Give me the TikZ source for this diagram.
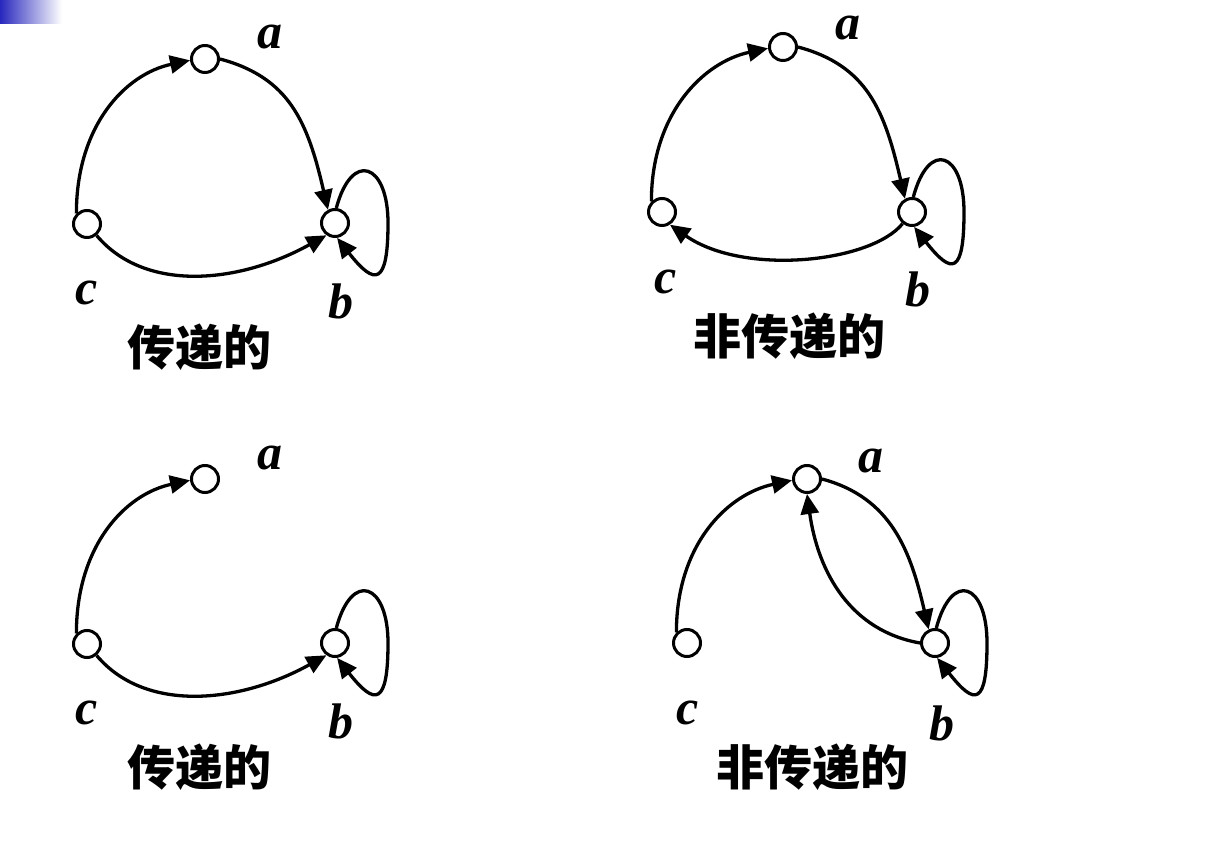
\documentclass[tikz,border=0pt]{standalone}
\usepackage{fontspec}
\setmainfont{Liberation Serif}
\newfontfamily\cjk{Noto Sans CJK SC}
\usetikzlibrary{arrows.meta,calc}
\definecolor{hdrblue}{RGB}{40,40,190}
\begin{document}
\begin{tikzpicture}[x=1pt,y=1pt,
  vtx/.style={circle,draw,line width=3pt,minimum size=27pt,inner sep=0pt,fill=white},
  edge/.style={line width=3.3pt,-{Triangle[length=20pt,width=18pt]}},
  lbl/.style={font=\fontsize{50}{50}\selectfont\bfseries\itshape},
  ttl/.style={font=\fontsize{48}{48}\selectfont\cjk\bfseries},
  up/.style={out=90,in=192,out distance=88pt,in distance=66pt},
  down/.style={out=-15,in=103,out distance=72pt,in distance=90pt},
  bottom/.style={out=-50,in=209,out distance=75pt,in distance=100pt},
  back/.style={out=231,in=-35,out distance=50pt,in distance=90pt},
  loopA/.style={out=75,in=90,distance=60pt},
  loopB/.style={out=-90,in=-52,distance=62pt}]
\useasboundingbox (0,0) rectangle (1214,864);
\shade[left color=hdrblue, right color=white] (0,840) rectangle (62,864);

% ---------- panel 1 (top left) ----------
\node[vtx] (a1) at (205,805) {};
\node[vtx] (c1) at (87,640) {};
\node[vtx] (b1) at (335,641) {};
\coordinate (r1) at ($(b1)+(53,0)$);
\node[lbl] (la1) at (270,827) {a};
\node[lbl] (lc1) at (87,571) {c};
\node[lbl] (lb1) at (341,563) {b};
\node[ttl] (t1) at (199,517) {传递的};
\draw[edge] (c1.135) to[up] (a1.185);
\draw[edge] (a1.east) to[down] (b1.118);
\draw[edge] (c1.-50) to[bottom] (b1.235);
\draw[edge] (b1.85) to[loopA] (r1) to[loopB] (b1.-82);

% ---------- panel 2 (top right) ----------
\node[vtx] (a2) at (783,817) {};
\node[vtx] (c2) at (662,652) {};
\node[vtx] (b2) at (912,652) {};
\coordinate (r2) at ($(b2)+(52,0)$);
\node[lbl] (la2) at (848,836) {a};
\node[lbl] (lc2) at (666,582) {c};
\node[lbl] (lb2) at (918,575) {b};
\node[ttl] (t2) at (789,528) {非传递的};
\draw[edge] (c2.135) to[up] (a2.185);
\draw[edge] (a2.east) to[down] (b2.118);
\draw[edge] (b2.231) to[back] (c2.-58);
\draw[edge] (b2.85) to[loopA] (r2) to[loopB] (b2.-82);

% ---------- panel 3 (bottom left) ----------
\node[vtx] (a3) at (205,385) {};
\node[vtx] (c3) at (87,220) {};
\node[vtx] (b3) at (335,221) {};
\coordinate (r3) at ($(b3)+(53,0)$);
\node[lbl] (la3) at (270,406) {a};
\node[lbl] (lc3) at (87,151) {c};
\node[lbl] (lb3) at (341,143) {b};
\node[ttl] (t3) at (199,97) {传递的};
\draw[edge] (c3.135) to[up] (a3.185);
\draw[edge] (c3.-50) to[bottom] (b3.235);
\draw[edge] (b3.85) to[loopA] (r3) to[loopB] (b3.-82);

% ---------- panel 4 (bottom right) ----------
\node[vtx] (a4) at (807,385) {};
\node[vtx] (c4) at (687,221) {};
\node[vtx] (b4) at (935,221) {};
\coordinate (r4) at ($(b4)+(52,0)$);
\node[lbl] (la4) at (871,403) {a};
\node[lbl] (lc4) at (688,151) {c};
\node[lbl] (lb4) at (942,141) {b};
\node[ttl] (t4) at (812,97) {非传递的};
\draw[edge] (c4.135) to[up] (a4.185);
\draw[edge] (a4.east) to[down,in distance=80pt] (b4.115);
\draw[edge] (b4.west) to[out=170,in=-82,out distance=70pt,in distance=80pt] (a4.south);
\draw[edge] (b4.85) to[loopA] (r4) to[loopB] (b4.-82);
\end{tikzpicture}
\end{document}
